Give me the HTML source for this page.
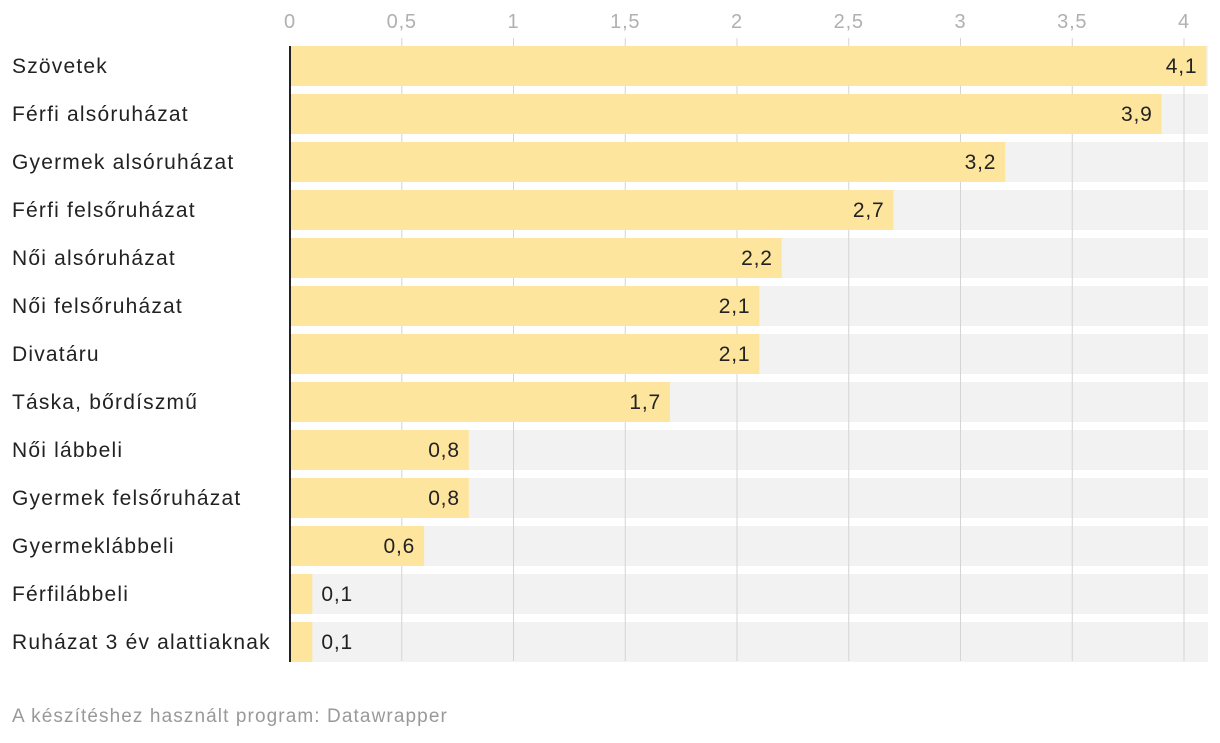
<!DOCTYPE html>
<html><head><meta charset="utf-8">
<style>
body{margin:0;background:#fff;width:1220px;height:738px;overflow:hidden;font-family:"Liberation Sans",sans-serif;}
svg text{font-family:"Liberation Sans",sans-serif;}
</style></head>
<body>
<svg id="chart" width="1220" height="738" xmlns="http://www.w3.org/2000/svg"></svg>
<script>
const categories=["Szövetek","Férfi alsóruházat","Gyermek alsóruházat","Férfi felsőruházat","Női alsóruházat","Női felsőruházat","Divatáru","Táska, bőrdíszmű","Női lábbeli","Gyermek felsőruházat","Gyermeklábbeli","Férfilábbeli","Ruházat 3 év alattiaknak"];
const values=[4.1,3.9,3.2,2.7,2.2,2.1,2.1,1.7,0.8,0.8,0.6,0.1,0.1];
const ticks=[0,0.5,1,1.5,2,2.5,3,3.5,4];
const tickLabels=["0","0,5","1","1,5","2","2,5","3","3,5","4"];

const NS="http://www.w3.org/2000/svg";
const svg=document.getElementById('chart');
const x0=290,pxPerUnit=223.5,top0=46,pitch=48,barH=40,bgRight=1208;
const xs=v=>x0+v*pxPerUnit;
const ys=i=>top0+i*pitch;
function mk(tag,attrs,parent){const e=document.createElementNS(NS,tag);for(const k in attrs)e.setAttribute(k,attrs[k]);(parent||svg).appendChild(e);return e;}

categories.forEach((c,i)=>{
  const r=mk('rect',{x:x0,y:ys(i),width:bgRight-x0,height:barH,fill:'#f2f2f2'});
  
  
});
ticks.forEach((t,i)=>{
  if(t>0){
    const l=mk('line',{x1:xs(t),x2:xs(t),y1:38,y2:661,stroke:'#d4d4d4','stroke-width':1});
    
    
  }
  const tx=mk('text',{x:xs(t),y:28,'text-anchor':'middle','font-size':20,fill:'#b0b0b0','letter-spacing':0.8});
  tx.textContent=tickLabels[i];
  
  
});
categories.forEach((c,i)=>{
  const v=values[i];
  const b=mk('rect',{x:x0,y:ys(i),width:xs(v)-x0,height:barH,fill:'#fee59e'});
  
  
  const lab=mk('text',{x:12,y:ys(i)+27,'font-size':21,fill:'#222','letter-spacing':1.2});
  lab.textContent=c;
  
  
  const txt=String(v).replace('.',',');
  const inside=(xs(v)-x0)>60;
  const vl=mk('text',{x:inside?xs(v)-9:xs(v)+9,y:ys(i)+27,'font-size':21,fill:'#222','letter-spacing':0.8,'text-anchor':inside?'end':'start'});
  vl.textContent=txt;
  
  
});
const ax=mk('line',{x1:x0,x2:x0,y1:46,y2:662,stroke:'#222','stroke-width':2});


const ft=mk('text',{x:12,y:722,'font-size':19,fill:'#999','letter-spacing':1.1});
ft.textContent="A készítéshez használt program: Datawrapper";


</script>
</body></html>
